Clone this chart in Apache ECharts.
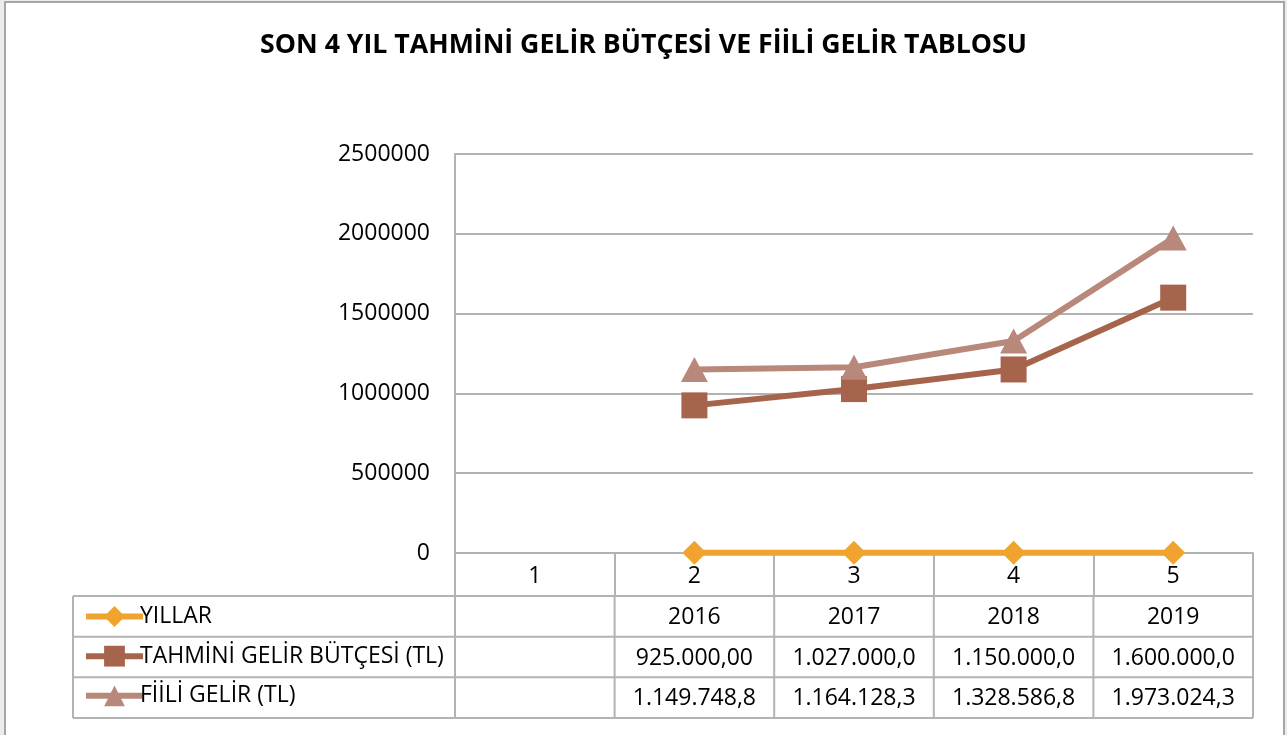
<!DOCTYPE html>
<html>
<head>
<meta charset="utf-8">
<script src="https://cdn.jsdelivr.net/npm/echarts@6/dist/echarts.min.js"></script>
<style>
html,body{margin:0;padding:0;background:#ececec;}
#c{width:1287px;height:735px;}
</style>
</head>
<body>
<div id="c"></div>
<script>
const title = 'SON 4 YIL TAHMİNİ GELİR BÜTÇESİ VE FİİLİ GELİR TABLOSU';
const categories = ['1', '2', '3', '4', '5'];
const seriesNames = ['YILLAR', 'TAHMİNİ GELİR BÜTÇESİ (TL)', 'FİİLİ GELİR (TL)'];
const yillar = [null, 2016, 2017, 2018, 2019];
const tahmini = [null, 925000, 1027000, 1150000, 1600000];
const fiili = [null, 1149748.8, 1164128.3, 1328586.8, 1973024.3];
const yMin = 0, yMax = 2500000, yInterval = 500000;

const colors = ['#F0A32F', '#A5644B', '#B8887B'];
const symbols = ['diamond', 'rect', 'triangle'];
const symbolSizes = [24, 26, [27, 25]];

const W = 1287, H = 735;
const G = {left: 455, right: 1253, top: 154, bottom: 553};
const catRowBottom = 596;
const tableBottom = 718;
const tableLeft = 73;
const rowH = (tableBottom - catRowBottom) / 3;
const gridColor = '#B3B3B3';
const FONT = '"Open Sans", sans-serif';
const FS = 23;

function fmtTR(v) {
  if (v == null) return '';
  const s = v.toFixed(2);
  let [ip, dp] = s.split('.');
  ip = ip.replace(/\B(?=(\d{3})+(?!\d))/g, '.');
  const full = ip + ',' + dp;
  return full.length > 11 ? full.slice(0, 11) : full;
}
function fmtYear(v) { return v == null ? '' : String(v); }

const chart = echarts.init(document.getElementById('c'), null, {renderer: 'canvas'});

const allData = [yillar, tahmini, fiili];
const series = allData.map((d, i) => ({
  name: seriesNames[i],
  type: 'line',
  data: d,
  symbol: symbols[i],
  symbolSize: symbolSizes[i],
  showAllSymbol: true,
  connectNulls: false,
  lineStyle: {color: colors[i], width: 6},
  itemStyle: {color: colors[i]},
  z: 3 + (i === 0 ? 0 : i),
  animation: false
}));

const graphics = [];
graphics.push({type: 'rect', shape: {x: 5, y: 2, width: 1279, height: 745},
  style: {fill: '#fff', stroke: '#A6A6A6', lineWidth: 2}, z: -10, silent: true});
const bandW = (G.right - G.left) / categories.length;
const rowYs = [catRowBottom, catRowBottom + rowH, catRowBottom + 2 * rowH, tableBottom];
rowYs.forEach(y => graphics.push({type: 'line', shape: {x1: tableLeft, y1: y, x2: G.right, y2: y},
  style: {stroke: gridColor, lineWidth: 2}, z: 1, silent: true}));
graphics.push({type: 'line', shape: {x1: tableLeft, y1: catRowBottom, x2: tableLeft, y2: tableBottom},
  style: {stroke: gridColor, lineWidth: 2}, z: 1, silent: true});
graphics.push({type: 'line', shape: {x1: G.left, y1: G.bottom, x2: G.left, y2: tableBottom},
  style: {stroke: gridColor, lineWidth: 2}, z: 1, silent: true});
for (let k = 1; k <= categories.length; k++) {
  const x = G.left + k * bandW;
  graphics.push({type: 'line', shape: {x1: x, y1: catRowBottom, x2: x, y2: tableBottom},
    style: {stroke: gridColor, lineWidth: 2}, z: 1, silent: true});
}
const fmts = [fmtYear, fmtTR, fmtTR];
allData.forEach((d, r) => {
  d.forEach((v, c) => {
    const txt = fmts[r](v);
    if (!txt) return;
    graphics.push({type: 'text', x: G.left + (c + 0.5) * bandW, y: catRowBottom + (r + 0.5) * rowH + 1,
      style: {text: txt, fill: '#000', font: FS + 'px ' + FONT, textAlign: 'center', textVerticalAlign: 'middle'},
      z: 2, silent: true});
  });
});

chart.setOption({
  animation: false,
  backgroundColor: 'transparent',
  title: {
    text: title, left: 'center', top: 27,
    textStyle: {fontFamily: FONT, fontWeight: 'bold', fontSize: 26.7, color: '#000'}
  },
  grid: {left: G.left, right: W - G.right, top: G.top, bottom: H - G.bottom, containLabel: false},
  legend: {
    orient: 'vertical', left: 78, top: catRowBottom + 4,
    itemWidth: 57, itemHeight: 26, itemGap: rowH - 24,
    data: seriesNames,
    lineStyle: {width: 6},
    textStyle: {fontFamily: FONT, fontSize: FS, color: '#000', padding: [0, 0, 0, -8]},
    selectedMode: false
  },
  xAxis: {
    type: 'category', data: categories, boundaryGap: true,
    axisLine: {show: true, lineStyle: {color: gridColor, width: 2}},
    axisTick: {show: true, interval: 0, inside: false, length: catRowBottom - G.bottom,
      lineStyle: {color: gridColor, width: 2}},
    axisLabel: {margin: 12, fontFamily: FONT, fontSize: FS, color: '#000'},
    splitLine: {show: false}
  },
  yAxis: {
    type: 'value', min: yMin, max: yMax, interval: yInterval,
    axisLine: {show: true, lineStyle: {color: gridColor, width: 2}},
    axisTick: {show: false},
    axisLabel: {margin: 25, fontFamily: FONT, fontSize: FS, color: '#000', formatter: v => String(v)},
    splitLine: {show: true, lineStyle: {color: gridColor, width: 2}}
  },
  graphic: graphics,
  series: series
});
</script>
</body>
</html>
